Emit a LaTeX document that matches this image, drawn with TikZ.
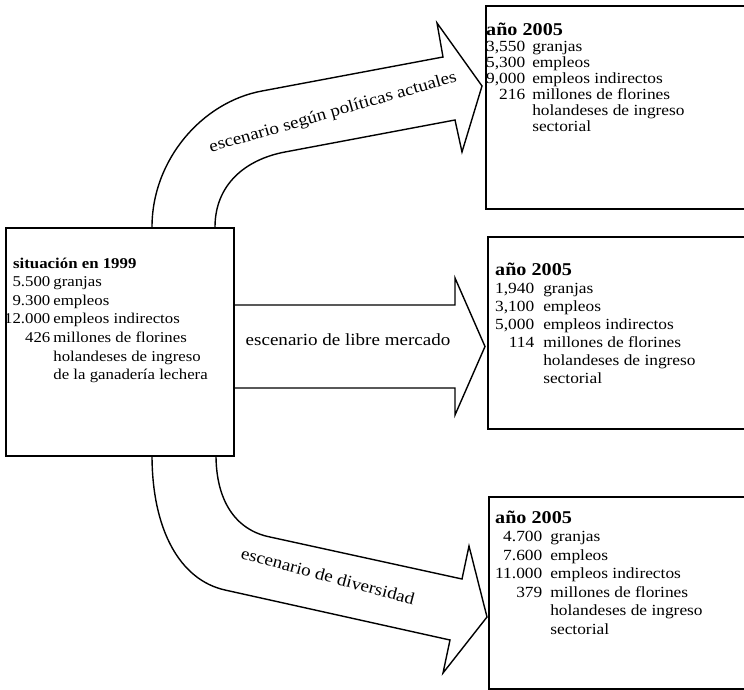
\documentclass[tikz,border=0pt]{standalone}
\usepackage{fontspec}
\setmainfont{Liberation Serif}[FakeStretch=1.12]
\newcommand{\boxhead}[1]{{\fontsize{18}{18}\selectfont\bfseries #1}}
\begin{document}
\begin{tikzpicture}[x=1pt,y=-1pt,
  panel/.style={draw=black,line width=1.7pt,fill=white,anchor=north west,inner sep=0pt},
  flow/.style={draw=black,line width=1.4pt,fill=white,line join=miter},
  datatext/.style={inner sep=0pt,anchor=base west},
  flowlabel/.style={inner sep=0pt,font=\fontsize{17}{19}\selectfont}]
\useasboundingbox (0,0) rectangle (744,690);
\clip (0,0) rectangle (744,690);

% block arrows, drawn first so the boxes cover their open ends
\draw[flow] (152,227) .. controls (152,160) and (202,102) .. (262,91)
  -- (443,57) -- (437,23) -- (482,86) -- (462,152) -- (455,120)
  -- (285,152) .. controls (245,159.5) and (215,185) .. (215,227);
\draw[flow] (233,305) -- (455,305) -- (455,278) -- (485,346.5)
  -- (455,415) -- (455,388) -- (233,388);
\draw[flow] (152,455) .. controls (152,530) and (180,580) .. (225,590)
  -- (450,640) -- (443,673) -- (487,617) -- (469,546) -- (462,579)
  -- (270,537) .. controls (235,530) and (216,500) .. (216,455);

% boxes
\node[panel,minimum width=228pt,minimum height=228pt] (now) at (5,227) {};
\node[panel,minimum width=280pt,minimum height=203pt] (policy) at (485,5) {};
\node[panel,minimum width=280pt,minimum height=192pt] (market) at (487,236) {};
\node[panel,minimum width=280pt,minimum height=192pt] (diverse) at (488,496) {};

% arrow labels
\node[flowlabel,rotate=16] (lpolicy) at (333,113) {escenario según políticas actuales};
\node[flowlabel] (lmarket) at (348,340) {escenario de libre mercado};
\node[flowlabel,rotate=-15] (ldiverse) at (328,576) {escenario de diversidad};

% box contents
\node[datatext,font=\fontsize{15}{18.6}\selectfont] (tnow) at (4,268) {%
  \begin{tabular}[t]{@{}r@{\hspace{3pt}}l@{}}
  \multicolumn{2}{@{\hspace{9pt}}l@{}}{\bfseries situación en 1999}\\
  5.500 & granjas\\
  9.300 & empleos\\
  12.000 & empleos indirectos\\
  426 & millones de florines\\
  & holandeses de ingreso\\
  & de la ganadería lechera
  \end{tabular}};
\node[datatext,font=\fontsize{15.5}{16}\selectfont] (tpolicy) at (486,36) {%
  \begin{tabular}[t]{@{}r@{\hspace{7pt}}l@{}}
  \multicolumn{2}{@{}l@{}}{\boxhead{año 2005}}\\
  3,550 & granjas\\
  5,300 & empleos\\
  9,000 & empleos indirectos\\
  216 & millones de florines\\
  & holandeses de ingreso\\
  & sectorial
  \end{tabular}};
\node[datatext,font=\fontsize{15.5}{18}\selectfont] (tmarket) at (495,275) {%
  \begin{tabular}[t]{@{}r@{\hspace{9pt}}l@{}}
  \multicolumn{2}{@{}l@{}}{\boxhead{año 2005}}\\
  1,940 & granjas\\
  3,100 & empleos\\
  5,000 & empleos indirectos\\
  114 & millones de florines\\
  & holandeses de ingreso\\
  & sectorial
  \end{tabular}};
\node[datatext,font=\fontsize{15.5}{18.5}\selectfont] (tdiverse) at (495,523) {%
  \begin{tabular}[t]{@{}r@{\hspace{8pt}}l@{}}
  \multicolumn{2}{@{}l@{}}{\boxhead{año 2005}}\\
  4.700 & granjas\\
  7.600 & empleos\\
  11.000 & empleos indirectos\\
  379 & millones de florines\\
  & holandeses de ingreso\\
  & sectorial
  \end{tabular}};
\end{tikzpicture}
\end{document}
